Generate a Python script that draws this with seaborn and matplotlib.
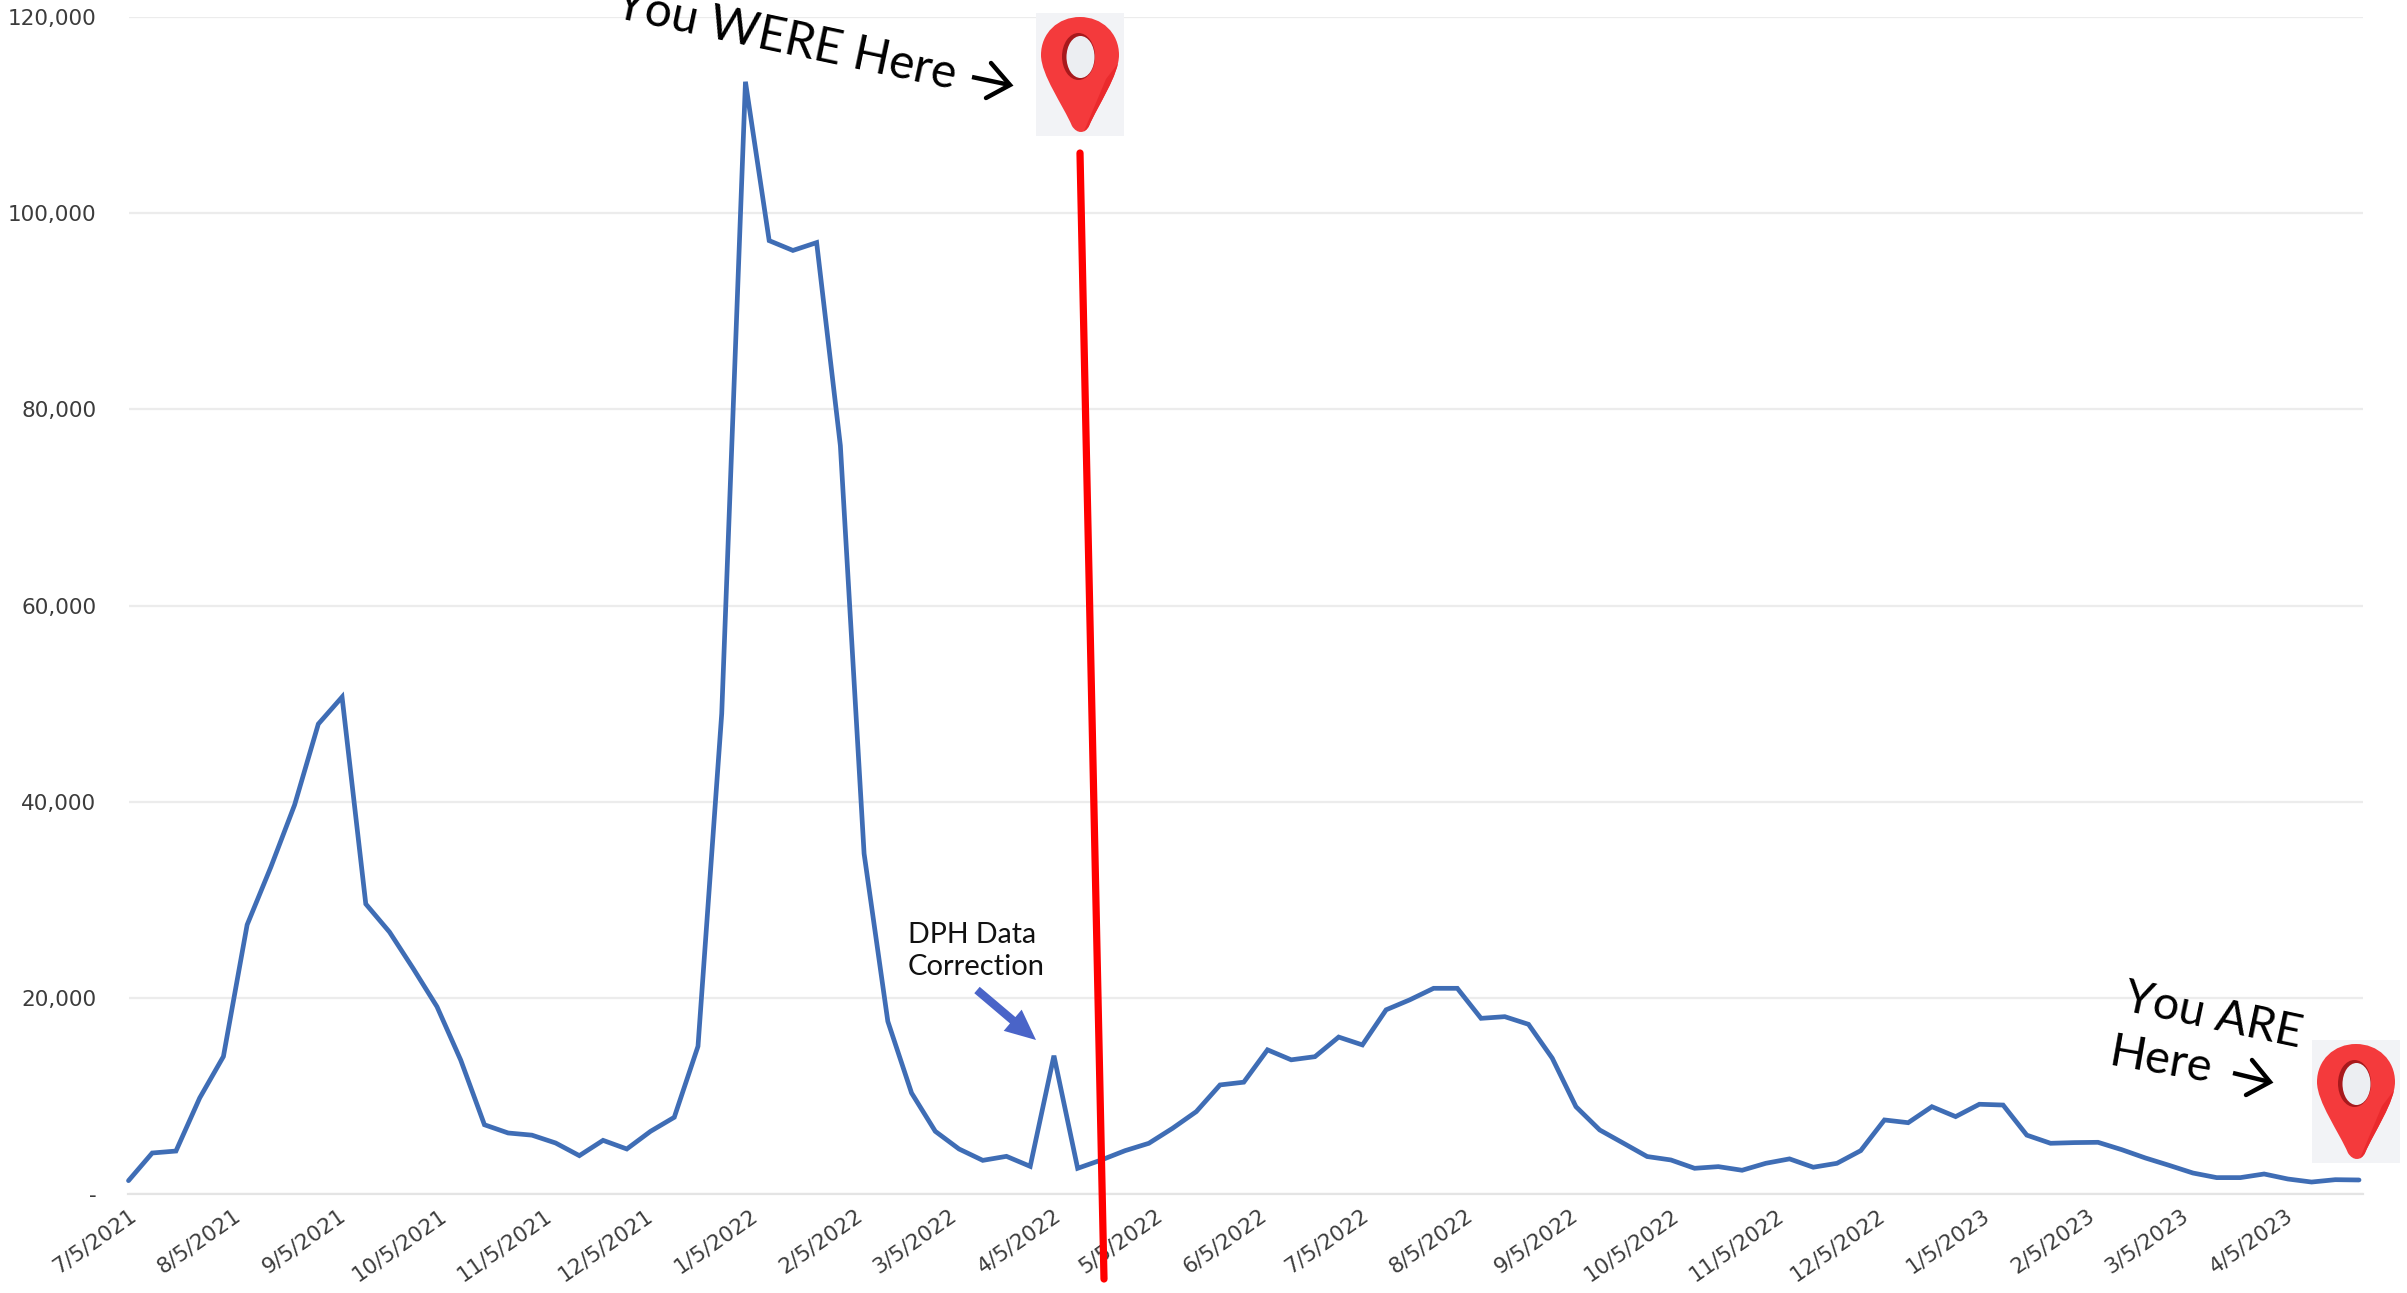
import matplotlib
matplotlib.use("Agg")
import matplotlib.pyplot as plt
import numpy as np
import pandas as pd
import seaborn as sns
from matplotlib.patches import Ellipse, FancyArrowPatch, PathPatch, Polygon, Rectangle
from matplotlib.path import Path
from matplotlib.ticker import FuncFormatter

# Weekly case counts, one entry per report
weekly_cases = [
    1360, 4180, 4380, 9790, 14020, 27450, 33340, 39670, 47920, 50670,
    29570, 26710, 22980, 19100, 13660, 7060, 6220, 6000, 5200, 3910,
    5470, 4590, 6390, 7820, 15060, 48970, 113400, 97200, 96200, 97000,
    76300, 34700, 17600, 10300, 6390, 4590, 3430, 3840, 2820, 14100,
    2620, 3470, 4420, 5170, 6700, 8400, 11120, 11400, 14700, 13680,
    14000, 16000, 15200, 18780, 19800, 20970, 20970, 17910, 18080, 17300,
    13850, 8900, 6530, 5180, 3820, 3470, 2620, 2790, 2420, 3130,
    3580, 2730, 3130, 4420, 7550, 7270, 8900, 7890, 9150, 9070,
    6000, 5170, 5240, 5270, 4520, 3670, 2920, 2140, 1670, 1670,
    2040, 1530, 1220, 1460, 1430,
]
tick_dates = [
    "2021-07-05", "2021-08-05", "2021-09-05", "2021-10-05", "2021-11-05", "2021-12-05",
    "2022-01-05", "2022-02-05", "2022-03-05", "2022-04-05", "2022-05-05", "2022-06-05",
    "2022-07-05", "2022-08-05", "2022-09-05", "2022-10-05", "2022-11-05", "2022-12-05",
    "2023-01-05", "2023-02-05", "2023-03-05", "2023-04-05",
]
tick_labels = [
    "7/5/2021", "8/5/2021", "9/5/2021", "10/5/2021", "11/5/2021", "12/5/2021",
    "1/5/2022", "2/5/2022", "3/5/2022", "4/5/2022", "5/5/2022", "6/5/2022",
    "7/5/2022", "8/5/2022", "9/5/2022", "10/5/2022", "11/5/2022", "12/5/2022",
    "1/5/2023", "2/5/2023", "3/5/2023", "4/5/2023",
]
y_ticks = [0, 20000, 40000, 60000, 80000, 100000, 120000]

W, H = 2407, 1293
sns.set_theme(style="white")
plt.rcParams["font.family"] = ["DejaVu Sans"]

fig = plt.figure(figsize=(W / 100, H / 100), dpi=100, facecolor="white")
left, right, top, bottom = 128.5, 2363, 17, 1194
ax = fig.add_axes([left / W, 1 - bottom / H, (right - left) / W, (bottom - top) / H])

start = pd.Timestamp("2021-07-05")
report_days = np.arange(len(weekly_cases)) * 7.03
frame = pd.DataFrame({
    "date": start + pd.to_timedelta(report_days, unit="D"),
    "cases": weekly_cases,
})
sns.lineplot(data=frame, x="date", y="cases", color="#3f6db5", linewidth=3.4, ax=ax,
             solid_joinstyle="miter", clip_on=False, zorder=3)

ax.set_xlim(start, start + pd.Timedelta(days=662))
ax.set_ylim(0, 120000)
ax.set_xlabel("")
ax.set_ylabel("")
ax.set_yticks(y_ticks)
ax.yaxis.set_major_formatter(FuncFormatter(lambda v, _: "-" if v == 0 else f"{int(v):,}"))
ax.set_xticks(pd.to_datetime(tick_dates))
ax.set_xticklabels(tick_labels, rotation=35, ha="right", rotation_mode="anchor")
ax.grid(axis="y", color="#ececec", linewidth=1.6)
ax.set_axisbelow(True)
for side in ["top", "right", "left"]:
    ax.spines[side].set_visible(False)
ax.spines["bottom"].set_color("#e4e4e4")
ax.spines["bottom"].set_linewidth(1.6)
ax.tick_params(axis="y", length=0, pad=23, labelsize=15.5, labelcolor="#3c3c3c")
ax.tick_params(axis="x", length=5, width=1.2, color="#e2e2e2", pad=3, labelsize=15.5,
               labelcolor="#3c3c3c")

# Overlay in image-pixel units for the callouts
over = fig.add_axes([0, 0, 1, 1], facecolor="none")
over.set_xlim(0, W)
over.set_ylim(H, 0)
over.axis("off")


def draw_pin(x0, y0):
    over.add_patch(Rectangle((x0, y0), 88, 123, facecolor="#f2f3f6", edgecolor="none", zorder=5))
    verts = [
        (44, 4), (66, 4), (83, 20), (83, 42), (83, 62), (62, 92), (53, 113),
        (49, 121), (41, 121), (36, 113), (27, 92), (5, 62), (5, 42),
        (5, 20), (22, 4), (44, 4), (44, 4),
    ]
    codes = [Path.MOVETO] + [Path.CURVE4] * 15 + [Path.CLOSEPOLY]
    outline = Path([(x0 + a, y0 + b) for a, b in verts], codes)
    body = PathPatch(outline, facecolor="#f43a3c", edgecolor="none", zorder=6)
    over.add_patch(body)
    shade = Polygon([(x0 + a, y0 + b) for a, b in [(70, 66), (90, 40), (90, 123), (46, 123)]],
                    facecolor="#ea2a2d", edgecolor="none", zorder=6.1)
    over.add_patch(shade)
    shade.set_clip_path(body)
    over.add_patch(Ellipse((x0 + 42.5, y0 + 43.5), 33, 47, facecolor="#a8191c", edgecolor="none", zorder=6.2))
    over.add_patch(Ellipse((x0 + 44.5, y0 + 44), 28, 42, facecolor="#eceef2", edgecolor="none", zorder=6.3))


def draw_open_arrow(tail, tip, wing_a, wing_b):
    over.plot([tail[0], tip[0]], [tail[1], tip[1]], color="black", lw=3.2, solid_capstyle="butt", zorder=7)
    over.plot([wing_a[0], tip[0], wing_b[0]], [wing_a[1], tip[1], wing_b[1]], color="black", lw=3.2,
              solid_joinstyle="miter", zorder=7)


draw_pin(1036, 13)
draw_pin(2312, 1040)

# Vertical divider
over.plot([1080, 1104], [153, 1279], color="#ff0000", lw=5.2, solid_capstyle="round", zorder=8)

callout = dict(family="Lato", color="black", ha="left", va="baseline", rotation_mode="anchor", zorder=7)
over.text(613, 17, "You WERE Here", fontsize=34.5, rotation=-12, **callout)
over.text(2122, 1010, "You ARE", fontsize=33.5, rotation=-12, **callout)
over.text(2108, 1065, "Here", fontsize=34, rotation=-10, **callout)
draw_open_arrow((972, 77), (1010, 85), (991, 63), (986, 98))
draw_open_arrow((2233, 1073), (2270, 1082), (2252, 1060), (2246, 1095))

# Note on the April 2022 spike
over.text(908, 943, "DPH Data", fontsize=20.5, family="Lato", color="#111111", ha="left", va="baseline")
over.text(908, 975, "Correction", fontsize=21, family="Lato", color="#111111", ha="left", va="baseline")
over.add_patch(FancyArrowPatch((977, 990), (1036, 1040), arrowstyle="simple,head_width=20,head_length=22,tail_width=6",
                               mutation_scale=1, color="#4a64c8", lw=0, shrinkA=0, shrinkB=0, zorder=7))

fig.savefig("out.png", dpi=100, facecolor="white")
